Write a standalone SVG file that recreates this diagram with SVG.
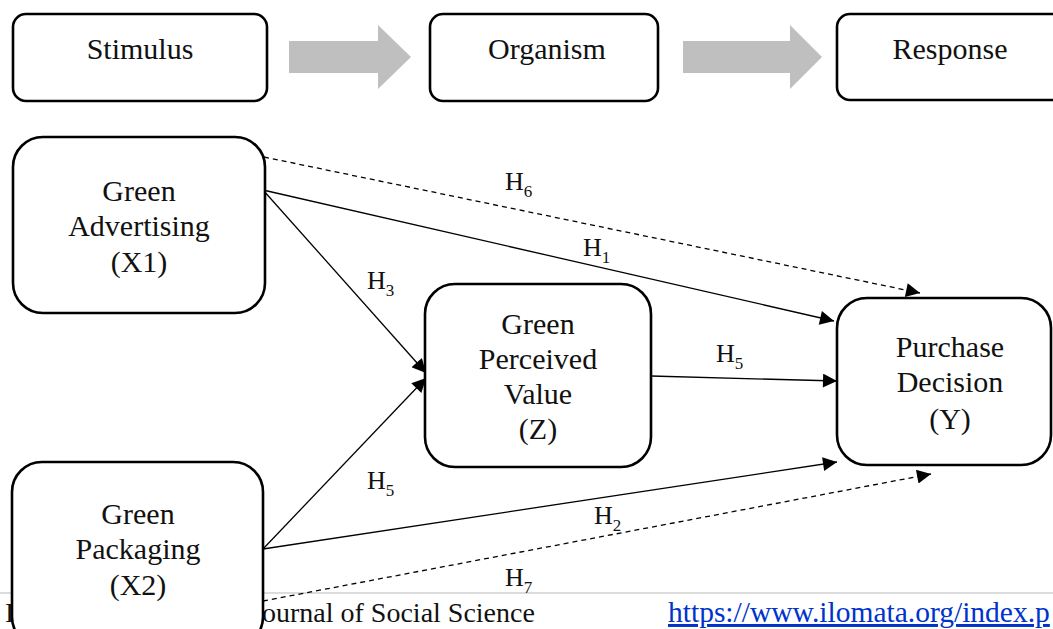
<svg xmlns="http://www.w3.org/2000/svg" width="1053" height="629" viewBox="0 0 1053 629">
<defs>
<style>
.box{fill:#fff;stroke:#000;stroke-width:2.6}
.t{font-family:"Liberation Serif","Times New Roman",serif;font-size:30px;fill:#111;text-anchor:middle}
.h{font-family:"Liberation Serif","Times New Roman",serif;font-size:26px;fill:#111}
.h tspan.s{font-size:17px}
.ln{fill:none;stroke:#000;stroke-width:1.3}
.dash{stroke-dasharray:5 4}
.big{fill:#bfbfbf}
.foot{font-family:"Liberation Serif","Times New Roman",serif;font-size:28px;fill:#111}
.link{font-family:"Liberation Serif","Times New Roman",serif;font-size:29.5px;fill:#0033cc;text-decoration:underline}
</style>
<marker id="ah" viewBox="0 0 10 10" refX="10" refY="5" markerUnits="userSpaceOnUse" markerWidth="18" markerHeight="14" orient="auto">
<path d="M0,0 L10,5 L0,10 z" fill="#000"/>
</marker>
<clipPath id="cut"><rect x="0" y="0" width="1053" height="601"/></clipPath>
</defs>
<rect width="1053" height="629" fill="#fff"/>

<g id="footer">
<line x1="0" y1="593" x2="1053" y2="593" stroke="#d0d0d0" stroke-width="1.5"/>
<text class="foot" x="5" y="622">I</text>
<text class="foot" x="262" y="622">ournal of Social Science</text>
<text class="link" x="668" y="622">https://www.ilomata.org/index.p</text>
</g>

<g id="flow-arrows">
<path class="big" d="M289,41 L378,41 L378,25 L411,57 L378,89 L378,73 L289,73 z"/>
<path class="big" d="M683,41 L790,41 L790,25 L822,57 L790,89 L790,73 L683,73 z"/>
</g>

<g id="connectors">
<line class="ln dash" x1="264" y1="157" x2="920" y2="293" marker-end="url(#ah)"/>
<line class="ln" x1="263" y1="190" x2="834" y2="321" marker-end="url(#ah)"/>
<line class="ln" x1="263" y1="190" x2="426" y2="373" marker-end="url(#ah)"/>
<line class="ln" x1="263" y1="549" x2="426" y2="378" marker-end="url(#ah)"/>
<line class="ln" x1="651" y1="376" x2="837" y2="381" marker-end="url(#ah)"/>
<line class="ln" x1="263" y1="549" x2="837" y2="462" marker-end="url(#ah)"/>
<line class="ln dash" x1="263" y1="601" x2="931" y2="474" marker-end="url(#ah)"/>
<text class="h" x="505" y="190">H<tspan class="s" dy="7">6</tspan></text>
<text class="h" x="583" y="256">H<tspan class="s" dy="7">1</tspan></text>
<text class="h" x="367" y="289">H<tspan class="s" dy="7">3</tspan></text>
<text class="h" x="716" y="362">H<tspan class="s" dy="7">5</tspan></text>
<text class="h" x="367" y="489">H<tspan class="s" dy="7">5</tspan></text>
<text class="h" x="594" y="524">H<tspan class="s" dy="7">2</tspan></text>
<text class="h" x="505" y="586">H<tspan class="s" dy="7">7</tspan></text>
</g>

<g id="stimulus">
<rect class="box" x="13" y="14" width="254" height="87" rx="13"/>
<text class="t" x="140" y="59">Stimulus</text>
</g>
<g id="organism">
<rect class="box" x="430" y="14" width="228" height="87" rx="13"/>
<text class="t" x="547" y="59">Organism</text>
</g>
<g id="response">
<rect class="box" x="837" y="14" width="230" height="86" rx="13"/>
<text class="t" x="950" y="59">Response</text>
</g>

<g id="green-advertising">
<rect class="box" x="13" y="137" width="252" height="176" rx="30"/>
<text class="t" x="139" y="201">Green</text>
<text class="t" x="139" y="236">Advertising</text>
<text class="t" x="139" y="272">(X1)</text>
</g>
<g id="green-perceived-value">
<rect class="box" x="425" y="284" width="226" height="183" rx="30"/>
<text class="t" x="538" y="334">Green</text>
<text class="t" x="538" y="369">Perceived</text>
<text class="t" x="538" y="404">Value</text>
<text class="t" x="538" y="439">(Z)</text>
</g>
<g id="purchase-decision">
<rect class="box" x="837" y="298" width="214" height="167" rx="30"/>
<text class="t" x="950" y="357">Purchase</text>
<text class="t" x="950" y="392">Decision</text>
<text class="t" x="950" y="429">(Y)</text>
</g>
<g id="green-packaging">
<rect class="box" x="12" y="462" width="251" height="185" rx="30"/>
<text class="t" x="138" y="524">Green</text>
<text class="t" x="138" y="559">Packaging</text>
<text class="t" x="138" y="595" clip-path="url(#cut)">(X2)</text>
</g>
</svg>
